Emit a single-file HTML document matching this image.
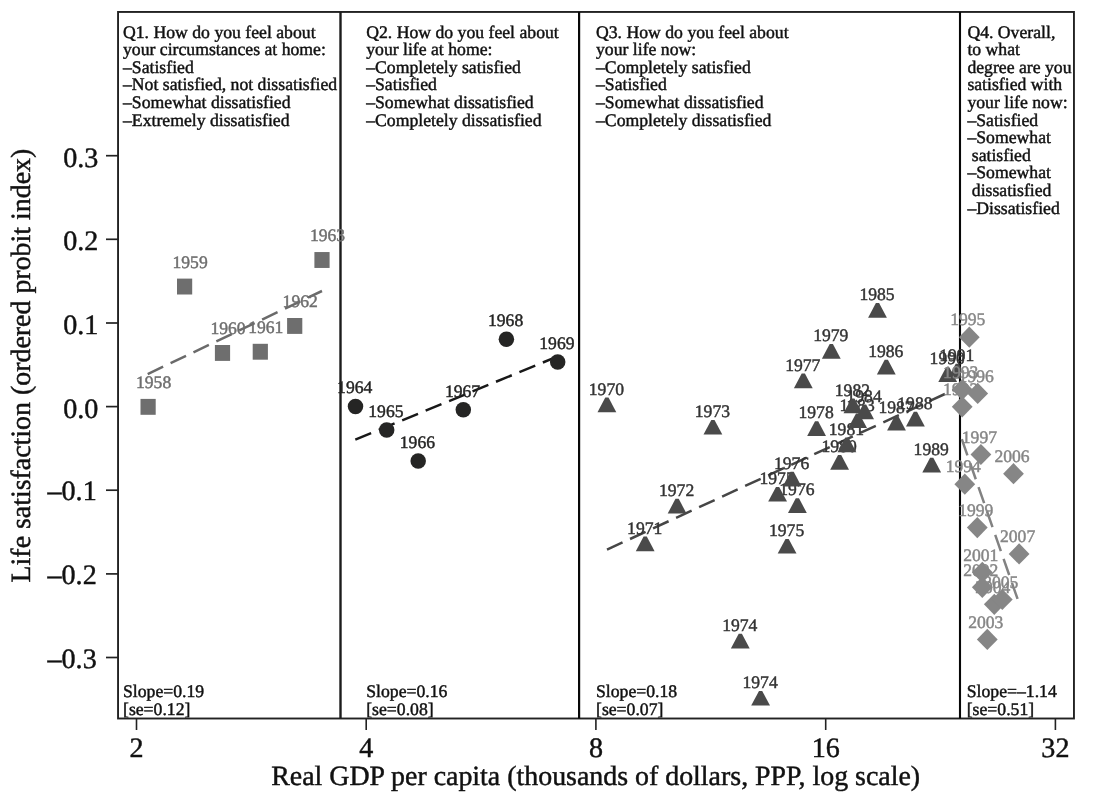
<!DOCTYPE html>
<html lang="en"><head><meta charset="utf-8"><title>Life satisfaction and real GDP per capita</title>
<style>html,body{margin:0;padding:0;background:#fff}svg{display:block}text{font-family:"Liberation Serif", "Times New Roman", Times, serif;}</style></head><body>
<svg width="1097" height="801" viewBox="0 0 1097 801" text-rendering="geometricPrecision">
<rect width="1097" height="801" fill="#fff"/>
<g stroke="#222" stroke-width="1.9" fill="none">
<rect x="118.05" y="11.95" width="955.90" height="706.55"/>
<line x1="340.5" y1="11.95" x2="340.5" y2="718.5" stroke="#1c1c1c" stroke-width="2.4"/>
<line x1="579.1" y1="11.95" x2="579.1" y2="718.5" stroke="#080808" stroke-width="2.2"/>
<line x1="960.0" y1="11.95" x2="960.0" y2="718.5" stroke="#080808" stroke-width="2.1"/>
<line x1="106" y1="155.7" x2="118.05" y2="155.7" stroke-width="1.7"/>
<line x1="106" y1="239.3" x2="118.05" y2="239.3" stroke-width="1.7"/>
<line x1="106" y1="323.0" x2="118.05" y2="323.0" stroke-width="1.7"/>
<line x1="106" y1="406.6" x2="118.05" y2="406.6" stroke-width="1.7"/>
<line x1="106" y1="490.2" x2="118.05" y2="490.2" stroke-width="1.7"/>
<line x1="106" y1="573.9" x2="118.05" y2="573.9" stroke-width="1.7"/>
<line x1="106" y1="657.5" x2="118.05" y2="657.5" stroke-width="1.7"/>
<line x1="136.5" y1="718.5" x2="136.5" y2="730" stroke-width="1.6"/>
<line x1="366.2" y1="718.5" x2="366.2" y2="730" stroke-width="1.6"/>
<line x1="595.9" y1="718.5" x2="595.9" y2="730" stroke-width="1.6"/>
<line x1="825.7" y1="718.5" x2="825.7" y2="730" stroke-width="1.6"/>
<line x1="1055.4" y1="718.5" x2="1055.4" y2="730" stroke-width="1.6"/>
</g>
<clipPath id="c3"><rect x="570" y="0" width="391.1" height="801"/></clipPath>
<line x1="147.7" y1="374.1" x2="322.0" y2="291.0" stroke="#6a6a6a" stroke-width="2.5" stroke-dasharray="17.1 8.25"/>
<g fill="#6e6e6e" stroke="#6e6e6e" stroke-width="0.45" transform="scale(1,1.0)">
<text x="153.6" y="388.10" font-size="17.6" text-anchor="middle">1958</text>
<text x="190.1" y="267.80" font-size="17.6" text-anchor="middle">1959</text>
<text x="228.0" y="334.20" font-size="17.6" text-anchor="middle">1960</text>
<text x="265.8" y="333.00" font-size="17.6" text-anchor="middle">1961</text>
<text x="300.2" y="307.20" font-size="17.6" text-anchor="middle">1962</text>
<text x="327.5" y="241.25" font-size="17.6" text-anchor="middle">1963</text>
</g><g fill="#6e6e6e">
<rect x="140.50" y="398.90" width="15.2" height="15.9"/>
<rect x="177.00" y="278.60" width="15.2" height="15.9"/>
<rect x="214.90" y="345.00" width="15.2" height="15.9"/>
<rect x="252.70" y="343.80" width="15.2" height="15.9"/>
<rect x="287.10" y="318.00" width="15.2" height="15.9"/>
<rect x="314.40" y="252.05" width="15.2" height="15.9"/>
</g>
<line x1="355.3" y1="439.6" x2="557.7" y2="356.4" stroke="#181818" stroke-width="2.5" stroke-dasharray="17.1 8.25"/>
<g fill="#252524" stroke="#252524" stroke-width="0.45" transform="scale(1,1.0)">
<text x="354.7" y="393.40" font-size="17.6" text-anchor="middle">1964</text>
<text x="385.9" y="417.10" font-size="17.6" text-anchor="middle">1965</text>
<text x="417.4" y="448.10" font-size="17.6" text-anchor="middle">1966</text>
<text x="462.5" y="396.80" font-size="17.6" text-anchor="middle">1967</text>
<text x="505.6" y="326.20" font-size="17.6" text-anchor="middle">1968</text>
<text x="556.9" y="349.00" font-size="17.6" text-anchor="middle">1969</text>
</g><g fill="#252524">
<circle cx="355.5" cy="406.4" r="7.75"/>
<circle cx="386.7" cy="430.1" r="7.75"/>
<circle cx="418.2" cy="461.1" r="7.75"/>
<circle cx="463.3" cy="409.8" r="7.75"/>
<circle cx="506.4" cy="339.2" r="7.75"/>
<circle cx="557.7" cy="362.0" r="7.75"/>
</g>
<line x1="607.0" y1="549.6" x2="957.3" y2="388.3" stroke="#464646" stroke-width="2.5" stroke-dasharray="17.1 8.25"/>
<g fill="#333333" stroke="#333333" stroke-width="0.45" transform="scale(1,1.0)">
<text x="606.4" y="394.70" font-size="17.6" text-anchor="middle">1970</text>
<text x="644.7" y="533.70" font-size="17.6" text-anchor="middle">1971</text>
<text x="676.6" y="495.90" font-size="17.6" text-anchor="middle">1972</text>
<text x="712.4" y="417.00" font-size="17.6" text-anchor="middle">1973</text>
<text x="739.8" y="630.80" font-size="17.6" text-anchor="middle">1974</text>
<text x="760.1" y="688.00" font-size="17.6" text-anchor="middle">1974</text>
<text x="777.1" y="484.00" font-size="17.6" text-anchor="middle">1975</text>
<text x="786.6" y="536.00" font-size="17.6" text-anchor="middle">1975</text>
<text x="791.6" y="468.80" font-size="17.6" text-anchor="middle">1976</text>
<text x="796.9" y="495.40" font-size="17.6" text-anchor="middle">1976</text>
<text x="802.8" y="370.70" font-size="17.6" text-anchor="middle">1977</text>
<text x="816.1" y="418.40" font-size="17.6" text-anchor="middle">1978</text>
<text x="830.8" y="341.10" font-size="17.6" text-anchor="middle">1979</text>
<text x="839.1" y="452.20" font-size="17.6" text-anchor="middle">1980</text>
<text x="846.4" y="434.70" font-size="17.6" text-anchor="middle">1981</text>
<text x="852.4" y="395.60" font-size="17.6" text-anchor="middle">1982</text>
<text x="857.1" y="410.50" font-size="17.6" text-anchor="middle">1983</text>
<text x="864.1" y="401.70" font-size="17.6" text-anchor="middle">1984</text>
<text x="877.0" y="300.10" font-size="17.6" text-anchor="middle">1985</text>
<text x="885.8" y="356.80" font-size="17.6" text-anchor="middle">1986</text>
<text x="896.0" y="412.90" font-size="17.6" text-anchor="middle">1987</text>
<text x="914.9" y="408.90" font-size="17.6" text-anchor="middle">1988</text>
<text x="931.2" y="454.90" font-size="17.6" text-anchor="middle">1989</text>
<text x="947.2" y="364.40" font-size="17.6" text-anchor="middle">1990</text>
<text x="956.8" y="360.80" font-size="17.6" text-anchor="middle">1991</text>
</g><g fill="#4a4a4a" clip-path="url(#c3)">
<path d="M605.3 397.6L608.5 397.6L616.3 412.3L597.5 412.3Z"/>
<path d="M643.6 536.6L646.8 536.6L654.6 551.3L635.8 551.3Z"/>
<path d="M675.5 498.8L678.7 498.8L686.5 513.5L667.7 513.5Z"/>
<path d="M711.3 419.9L714.5 419.9L722.3 434.6L703.5 434.6Z"/>
<path d="M738.7 633.7L741.9 633.7L749.7 648.4L730.9 648.4Z"/>
<path d="M759.0 690.9L762.2 690.9L770.0 705.6L751.2 705.6Z"/>
<path d="M776.0 486.9L779.2 486.9L787.0 501.6L768.2 501.6Z"/>
<path d="M785.5 538.9L788.7 538.9L796.5 553.6L777.7 553.6Z"/>
<path d="M790.5 471.7L793.7 471.7L801.5 486.4L782.7 486.4Z"/>
<path d="M795.8 498.3L799.0 498.3L806.8 513.0L788.0 513.0Z"/>
<path d="M801.7 373.6L804.9 373.6L812.7 388.3L793.9 388.3Z"/>
<path d="M815.0 421.3L818.2 421.3L826.0 436.0L807.2 436.0Z"/>
<path d="M829.7 344.0L832.9 344.0L840.7 358.7L821.9 358.7Z"/>
<path d="M838.0 455.1L841.2 455.1L849.0 469.8L830.2 469.8Z"/>
<path d="M845.3 437.6L848.5 437.6L856.3 452.3L837.5 452.3Z"/>
<path d="M851.3 398.5L854.5 398.5L862.3 413.2L843.5 413.2Z"/>
<path d="M856.0 413.4L859.2 413.4L867.0 428.1L848.2 428.1Z"/>
<path d="M863.0 404.6L866.2 404.6L874.0 419.3L855.2 419.3Z"/>
<path d="M875.9 303.0L879.1 303.0L886.9 317.7L868.1 317.7Z"/>
<path d="M884.7 359.7L887.9 359.7L895.7 374.4L876.9 374.4Z"/>
<path d="M894.9 415.8L898.1 415.8L905.9 430.5L887.1 430.5Z"/>
<path d="M913.8 411.8L917.0 411.8L924.8 426.5L906.0 426.5Z"/>
<path d="M930.1 457.8L933.3 457.8L941.1 472.5L922.3 472.5Z"/>
<path d="M946.1 367.3L949.3 367.3L957.1 382.0L938.3 382.0Z"/>
<path d="M955.7 363.7L958.9 363.7L966.7 378.4L947.9 378.4Z"/>
</g>
<line x1="961.8" y1="439.2" x2="1018.5" y2="601.6" stroke="#828282" stroke-width="2.5" stroke-dasharray="17.1 8.25"/>
<g fill="#868686" stroke="#868686" stroke-width="0.45" transform="scale(1,1.0)">
<text x="960.7" y="395.00" font-size="17.6" text-anchor="middle">1992</text>
<text x="960.7" y="377.80" font-size="17.6" text-anchor="middle">1993</text>
<text x="963.3" y="472.40" font-size="17.6" text-anchor="middle">1994</text>
<text x="967.8" y="325.40" font-size="17.6" text-anchor="middle">1995</text>
<text x="976.2" y="381.60" font-size="17.6" text-anchor="middle">1996</text>
<text x="979.4" y="442.70" font-size="17.6" text-anchor="middle">1997</text>
<text x="975.8" y="515.80" font-size="17.6" text-anchor="middle">1999</text>
<text x="980.8" y="560.50" font-size="17.6" text-anchor="middle">2001</text>
<text x="980.8" y="575.50" font-size="17.6" text-anchor="middle">2002</text>
<text x="985.8" y="627.60" font-size="17.6" text-anchor="middle">2003</text>
<text x="992.8" y="592.50" font-size="17.6" text-anchor="middle">2004</text>
<text x="1000.8" y="587.70" font-size="17.6" text-anchor="middle">2005</text>
<text x="1012.0" y="461.90" font-size="17.6" text-anchor="middle">2006</text>
<text x="1017.6" y="542.10" font-size="17.6" text-anchor="middle">2007</text>
</g>
<g fill="#868686">
<path d="M962.2 396.2L972.6 406.8L962.2 417.4L951.8 406.8Z"/>
<path d="M962.2 379.0L972.6 389.6L962.2 400.2L951.8 389.6Z"/>
<path d="M964.8 473.6L975.2 484.2L964.8 494.8L954.4 484.2Z"/>
<path d="M969.3 326.6L979.7 337.2L969.3 347.8L958.9 337.2Z"/>
<path d="M977.7 382.8L988.1 393.4L977.7 404.0L967.3 393.4Z"/>
<path d="M980.9 443.9L991.3 454.5L980.9 465.1L970.5 454.5Z"/>
<path d="M977.3 517.0L987.7 527.6L977.3 538.2L966.9 527.6Z"/>
<path d="M982.3 561.7L992.7 572.3L982.3 582.9L971.9 572.3Z"/>
<path d="M982.3 576.7L992.7 587.3L982.3 597.9L971.9 587.3Z"/>
<path d="M987.3 628.8L997.7 639.4L987.3 650.0L976.9 639.4Z"/>
<path d="M994.3 593.7L1004.7 604.3L994.3 614.9L983.9 604.3Z"/>
<path d="M1002.3 588.9L1012.7 599.5L1002.3 610.1L991.9 599.5Z"/>
<path d="M1013.5 463.1L1023.9 473.7L1013.5 484.3L1003.1 473.7Z"/>
<path d="M1019.1 543.3L1029.5 553.9L1019.1 564.5L1008.7 553.9Z"/>
</g>
<g fill="#111" stroke="#111" stroke-width="0.45" font-size="17.7" transform="scale(1,1.0)">
<text x="123.0" y="37.70">Q1. How do you feel about</text>
<text x="123.0" y="55.29">your circumstances at home:</text>
<text x="123.0" y="72.87">–Satisfied</text>
<text x="123.0" y="90.46">–Not satisfied, not dissatisfied</text>
<text x="123.0" y="108.04">–Somewhat dissatisfied</text>
<text x="123.0" y="125.63">–Extremely dissatisfied</text>
<text x="366.2" y="37.70">Q2. How do you feel about</text>
<text x="366.2" y="55.29">your life at home:</text>
<text x="366.2" y="72.87">–Completely satisfied</text>
<text x="366.2" y="90.46">–Satisfied</text>
<text x="366.2" y="108.04">–Somewhat dissatisfied</text>
<text x="366.2" y="125.63">–Completely dissatisfied</text>
<text x="596.0" y="37.70">Q3. How do you feel about</text>
<text x="596.0" y="55.29">your life now:</text>
<text x="596.0" y="72.87">–Completely satisfied</text>
<text x="596.0" y="90.46">–Satisfied</text>
<text x="596.0" y="108.04">–Somewhat dissatisfied</text>
<text x="596.0" y="125.63">–Completely dissatisfied</text>
<text x="967.4" y="37.70">Q4. Overall,</text>
<text x="967.4" y="55.29">to what</text>
<text x="967.4" y="72.87">degree are you</text>
<text x="967.4" y="90.46">satisfied with</text>
<text x="967.4" y="108.04">your life now:</text>
<text x="967.4" y="125.63">–Satisfied</text>
<text x="967.4" y="143.21">–Somewhat</text>
<text x="967.4" y="160.80"> satisfied</text>
<text x="967.4" y="178.38">–Somewhat</text>
<text x="967.4" y="195.97"> dissatisfied</text>
<text x="967.4" y="213.55">–Dissatisfied</text>
<text x="123.0" y="697.40">Slope=0.19</text>
<text x="123.0" y="714.60">[se=0.12]</text>
<text x="366.2" y="697.40">Slope=0.16</text>
<text x="366.2" y="714.60">[se=0.08]</text>
<text x="596.0" y="697.40">Slope=0.18</text>
<text x="596.0" y="714.60">[se=0.07]</text>
<text x="966.7" y="697.40">Slope=–1.14</text>
<text x="966.7" y="714.60">[se=0.51]</text>
</g>
<g fill="#111" stroke="#111" stroke-width="0.45" font-size="28.1">
<text x="98.3" y="166.7" text-anchor="end">0.3</text>
<text x="98.3" y="250.3" text-anchor="end">0.2</text>
<text x="98.3" y="334.0" text-anchor="end">0.1</text>
<text x="98.3" y="417.6" text-anchor="end">0.0</text>
<text x="96.7" y="500.2" text-anchor="end">–0.1</text>
<text x="96.7" y="583.9" text-anchor="end">–0.2</text>
<text x="96.7" y="667.5" text-anchor="end">–0.3</text>
<text x="136.5" y="756.5" text-anchor="middle">2</text>
<text x="366.2" y="756.5" text-anchor="middle">4</text>
<text x="595.9" y="756.5" text-anchor="middle">8</text>
<text x="825.7" y="756.5" text-anchor="middle">16</text>
<text x="1055.4" y="756.5" text-anchor="middle">32</text>
</g>
<text x="595.7" y="784.6" font-size="27.9" text-anchor="middle" fill="#111" stroke="#111" stroke-width="0.45">Real GDP per capita (thousands of dollars, PPP, log scale)</text>
<text transform="translate(29.7,365.6) rotate(-90)" font-size="27.9" text-anchor="middle" fill="#111" stroke="#111" stroke-width="0.45">Life satisfaction (ordered probit index)</text>
</svg></body></html>
